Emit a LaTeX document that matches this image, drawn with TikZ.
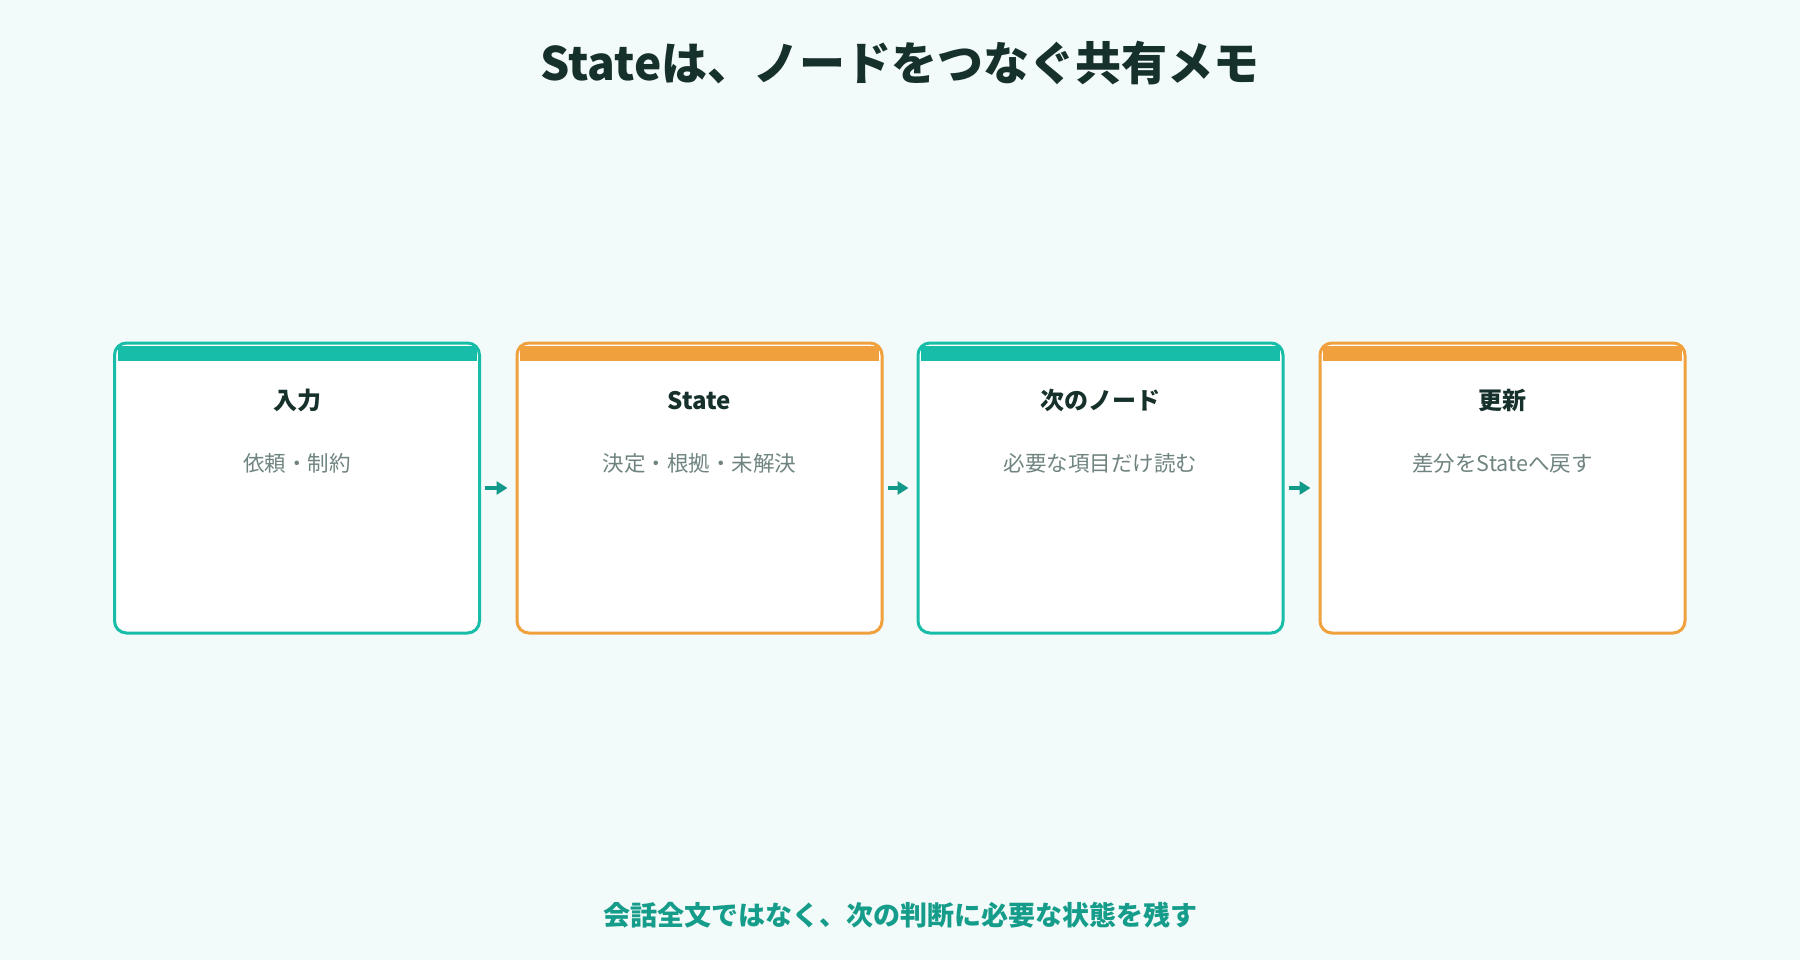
\documentclass[tikz,border=0pt]{standalone}
\usepackage{fontspec}
\setmainfont{Noto Sans CJK JP}
\usetikzlibrary{arrows.meta,positioning,calc}
\definecolor{bgc}{HTML}{F2FBF9}
\definecolor{tealc}{HTML}{17BDA8}
\definecolor{orangec}{HTML}{F0A03C}
\definecolor{arrowc}{HTML}{13998A}
\definecolor{darkc}{HTML}{16302B}
\definecolor{greyc}{HTML}{6F8480}
\definecolor{footc}{HTML}{169C8A}
\tikzset{
  card/.style={draw=#1, line width=3pt, fill=white, rounded corners=12pt,
    minimum width=365pt, minimum height=290pt, inner sep=0pt,
    path picture={\fill[#1, sharp corners] ([xshift=3pt,yshift=-3pt]path picture bounding box.north west) rectangle ([xshift=-3pt,yshift=-18pt]path picture bounding box.north east);}},
  cardtitle/.style={text=darkc, font=\bfseries\fontsize{24}{28}\selectfont, inner sep=0pt},
  cardsub/.style={text=greyc, font=\fontsize{21.5}{25}\selectfont, inner sep=0pt},
  flow/.style={draw=arrowc, line width=4pt, -{Triangle[length=11pt,width=13pt]}},
}
\begin{document}
\begin{tikzpicture}[x=1pt,y=-1pt]
\fill[bgc] (0,0) rectangle (1800,960);
\useasboundingbox (0,0) rectangle (1800,960);
\node[text=darkc, font=\bfseries\fontsize{46}{54}\selectfont] (title) at (900,63) {Stateは、ノードをつなぐ共有メモ};

\node[card=tealc] (n1) at (297,488) {};
\node[card=orangec] (n2) at (699.5,488) {};
\node[card=tealc] (n3) at (1100.5,488) {};
\node[card=orangec] (n4) at (1502.5,488) {};

\foreach \n/\t/\s in {n1/入力/依頼・制約, n2/State/決定・根拠・未解決, n3/次のノード/必要な項目だけ読む, n4/更新/差分をStateへ戻す}{
  \node[cardtitle] (\n t) at ([yshift=-59pt]\n.north) {\t};
  \node[cardsub] (\n s) at ([yshift=-122pt]\n.north) {\s};
}

\draw[flow] ([xshift=4pt]n1.east) -- ([xshift=-8pt]n2.west);
\draw[flow] ([xshift=4pt]n2.east) -- ([xshift=-8pt]n3.west);
\draw[flow] ([xshift=4pt]n3.east) -- ([xshift=-8pt]n4.west);

\node[text=footc, font=\bfseries\fontsize{27}{32}\selectfont] (foot) at (900,915) {会話全文ではなく、次の判断に必要な状態を残す};
\end{tikzpicture}
\end{document}
